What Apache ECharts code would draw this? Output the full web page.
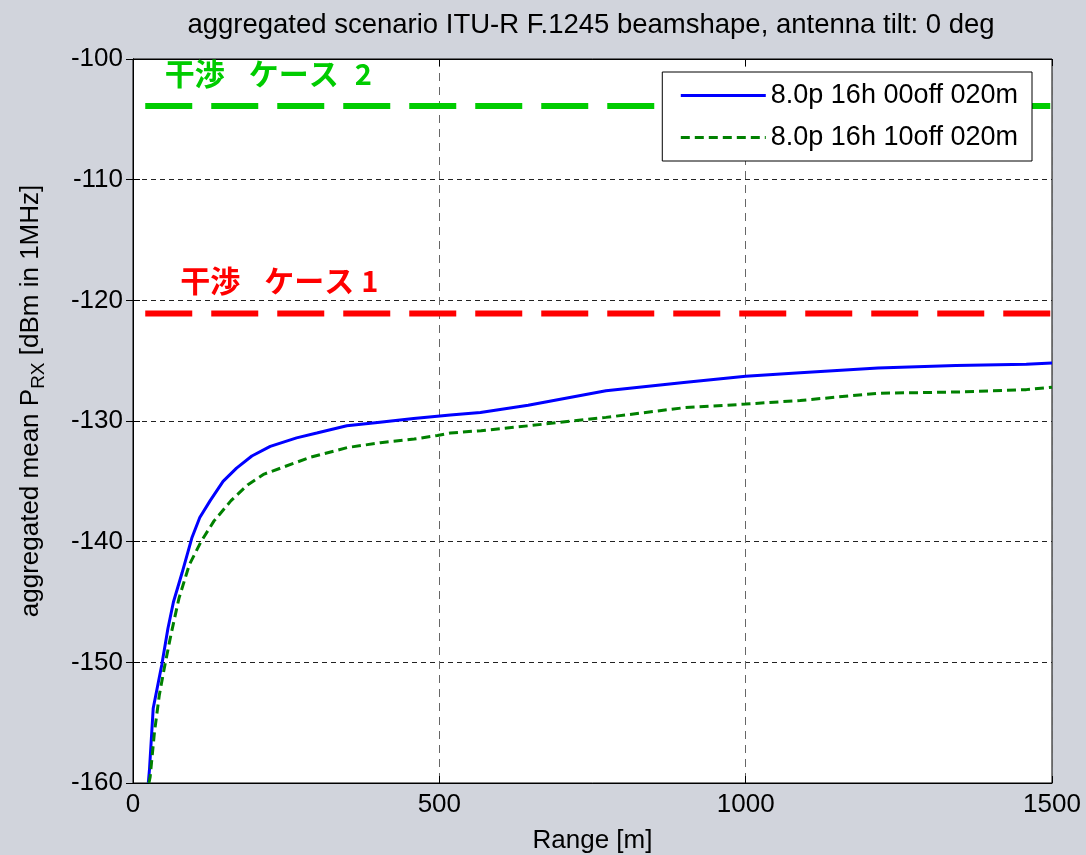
<!DOCTYPE html>
<html>
<head>
<meta charset="utf-8">
<script src="https://cdn.jsdelivr.net/npm/echarts@6/dist/echarts.min.js"></script>
<style>
html,body{margin:0;padding:0;background:#d1d4dc;}
#c{width:1086px;height:855px;}
</style>
</head>
<body>
<div id="c"></div>
<script>
// ---- data ----
var seriesNames = ['8.0p 16h 00off 020m', '8.0p 16h 10off 020m'];
var blueRange = [25, 27, 33, 47, 57, 66, 80, 96, 109, 126, 147, 169, 194, 224, 267, 300, 349, 403, 458, 518, 567, 645, 772, 899, 1000, 1089, 1216, 1343, 1458, 1500];
var blueLevel = [-160.0, -158.8, -153.8, -150.2, -147.2, -145.0, -142.6, -139.7, -138.0, -136.6, -135.0, -133.9, -132.9, -132.1, -131.4, -131.0, -130.4, -130.1, -129.8, -129.5, -129.3, -128.7, -127.5, -126.8, -126.3, -126.0, -125.6, -125.4, -125.3, -125.2];
var greenRange = [26, 28, 35, 43, 51, 62, 75, 92, 111, 132, 160, 187, 214, 241, 290, 350, 404, 459, 497, 518, 568, 645, 772, 899, 1000, 1089, 1216, 1343, 1458, 1500];
var greenLevel = [-160.0, -159.5, -155.8, -152.7, -150.5, -147.7, -144.7, -141.9, -140.0, -138.3, -136.6, -135.3, -134.4, -133.9, -133.0, -132.2, -131.8, -131.5, -131.2, -131.0, -130.8, -130.4, -129.7, -128.9, -128.6, -128.3, -127.7, -127.6, -127.4, -127.2];
var case2Level = -103.9;
var case1Level = -121.1;
var thresholdRange = [20, 1500];
var caseWord = ['干渉', 'ケース'];
var case2Number = '2';
var case1Number = '1';
var case2LabelAt = [52, -101.25];
var case1LabelAt = [77, -118.4];
var xTicks = {min: 0, max: 1500, interval: 500};
var yTicks = {min: -160, max: -100, interval: 10};

function pairs(xs, ys) { return xs.map(function (x, i) { return [x, ys[i]]; }); }

var FONT = '"Liberation Sans", Arial, sans-serif';
var CJK = '"Noto Sans CJK JP", sans-serif';

var chart = echarts.init(document.getElementById('c'), null, {renderer: 'canvas'});

var baseAxisX = {
  type: 'value', min: xTicks.min, max: xTicks.max, interval: xTicks.interval,
  axisLine: {show: true, lineStyle: {color: '#000', width: 1}},
  axisTick: {show: true, inside: true, length: 7, lineStyle: {color: '#000'}}
};
var baseAxisY = {
  type: 'value', min: yTicks.min, max: yTicks.max, interval: yTicks.interval,
  axisLine: {show: true, lineStyle: {color: '#000', width: 1}},
  axisTick: {show: true, inside: true, length: 7, lineStyle: {color: '#000'}}
};

function caseLabel(color, num, wordPad, numPad) {
  var st = {fontFamily: CJK, fontWeight: 'bold', fontSize: 30, color: color};
  return {
    show: true, position: 'right', distance: 0,
    formatter: '{a|' + caseWord[0] + '}{b|' + caseWord[1] + '}{c|' + num + '}',
    rich: {
      a: st,
      b: Object.assign({}, st, {padding: [0, 0, 0, wordPad]}),
      c: Object.assign({}, st, {fontSize: 29, padding: [0, 0, 0, numPad]})
    }
  };
}

var option = {
  backgroundColor: '#d1d4dc',
  animation: false,
  title: {
    text: 'aggregated scenario ITU-R F.1245 beamshape, antenna tilt: 0 deg',
    left: 591, top: 11, textAlign: 'center', padding: 0,
    textStyle: {fontFamily: FONT, fontSize: 27.5, fontWeight: 'normal', color: '#000'}
  },
  grid: {left: 133, right: 34, top: 59, bottom: 72, show: true, containLabel: false, outerBoundsMode: 'none',
    backgroundColor: '#fff', borderColor: '#000', borderWidth: 1},
  legend: {
    data: [
      {name: seriesNames[0], itemStyle: {opacity: 0}, lineStyle: {width: 3}},
      {name: seriesNames[1], itemStyle: {opacity: 0}, lineStyle: {width: 3}}
    ],
    orient: 'vertical', right: 54, top: 72,
    padding: [10, 14, 10, 17], itemGap: 15, itemWidth: 85, itemHeight: 14,
    backgroundColor: '#fff', borderColor: '#000', borderWidth: 1,
    itemStyle: {opacity: 0},
    textStyle: {fontFamily: FONT, fontSize: 27, lineHeight: 27, color: '#000'}
  },
  xAxis: [
    Object.assign({}, baseAxisX, {
      position: 'bottom',
      name: 'Range [m]', nameLocation: 'middle', nameGap: 45,
      nameTextStyle: {fontFamily: FONT, fontSize: 26, color: '#000'},
      axisLabel: {fontFamily: FONT, fontSize: 26, color: '#000', margin: 9, formatter: function (v) { return String(v); }},
      splitLine: {show: true, lineStyle: {color: '#666', width: 1, type: [8, 6]}}
    }),
    Object.assign({}, baseAxisX, {position: 'top', axisLabel: {show: false}, splitLine: {show: false}})
  ],
  yAxis: [
    Object.assign({}, baseAxisY, {
      position: 'left',
      name: '{p|aggregated mean P}{s|RX}{a| [dBm in 1MHz]}',
      nameLocation: 'middle', nameRotate: 90, nameGap: 85,
      nameTextStyle: {
        fontFamily: FONT, color: '#000',
        rich: {
          p: {fontFamily: FONT, fontSize: 26, lineHeight: 34, color: '#000', padding: [0, 0, 0, 40]},
          a: {fontFamily: FONT, fontSize: 26, lineHeight: 34, color: '#000'},
          s: {fontFamily: FONT, fontSize: 19, lineHeight: 19, verticalAlign: 'bottom', color: '#000'}
        }
      },
      axisLabel: {fontFamily: FONT, fontSize: 26, color: '#000', margin: 10},
      splitLine: {show: true, lineStyle: {color: '#222', width: 1, type: [5, 4]}}
    }),
    Object.assign({}, baseAxisY, {position: 'right', axisLabel: {show: false}, splitLine: {show: false}})
  ],
  series: [
    {
      name: seriesNames[0], type: 'line', data: pairs(blueRange, blueLevel),
      symbol: 'none', smooth: false, z: 3,
      lineStyle: {color: '#0000ff', width: 3}, itemStyle: {color: '#0000ff'}
    },
    {
      name: seriesNames[1], type: 'line', data: pairs(greenRange, greenLevel),
      symbol: 'none', smooth: false, z: 3,
      lineStyle: {color: '#008000', width: 3, type: [9, 5]}, itemStyle: {color: '#008000'}
    },
    {
      name: 'case2', type: 'line', data: pairs(thresholdRange, [case2Level, case2Level]),
      symbol: 'none', z: 2,
      lineStyle: {color: '#00cc00', width: 6, type: [47, 19]},
      markPoint: {
        symbol: 'circle', symbolSize: 0, silent: true,
        data: [{coord: case2LabelAt}],
        label: caseLabel('#00cc00', case2Number, 24, 16)
      }
    },
    {
      name: 'case1', type: 'line', data: pairs(thresholdRange, [case1Level, case1Level]),
      symbol: 'none', z: 2,
      lineStyle: {color: '#ff0000', width: 6, type: [47, 19]},
      markPoint: {
        symbol: 'circle', symbolSize: 0, silent: true,
        data: [{coord: case1LabelAt}],
        label: caseLabel('#ff0000', case1Number, 24, 7)
      }
    }
  ]
};
chart.setOption(option);
</script>
</body>
</html>
